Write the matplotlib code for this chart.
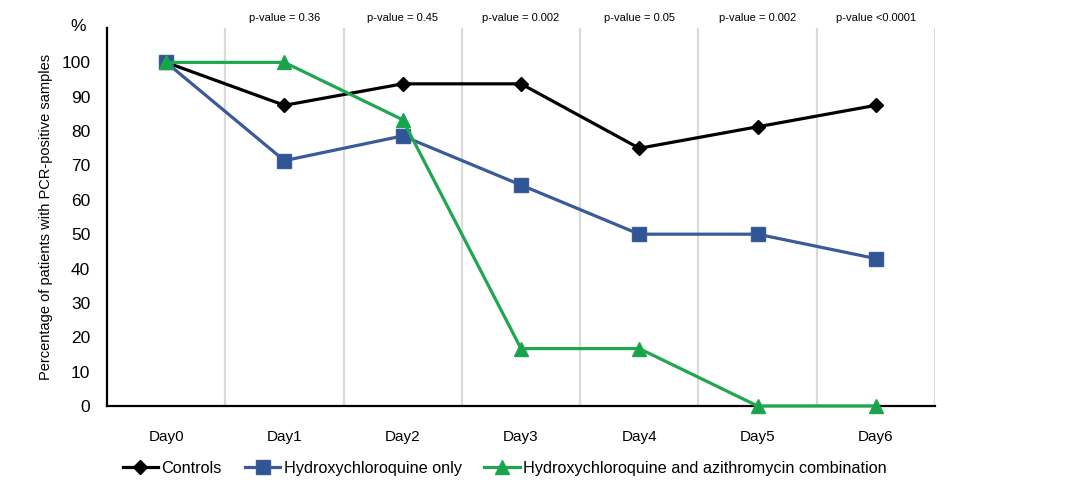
import matplotlib
matplotlib.use("Agg")
import matplotlib.pyplot as plt

plt.rcParams['font.family'] = ['Liberation Sans', 'DejaVu Sans']

days = ["Day0", "Day1", "Day2", "Day3", "Day4", "Day5", "Day6"]
controls = [100, 87.5, 93.75, 93.75, 75, 81.25, 87.5]
hcq_only = [100, 71.4, 78.6, 64.3, 50, 50, 42.9]
hcq_azi = [100, 100, 83.3, 16.7, 16.7, 0, 0]
p_values = ["p-value = 0.36", "p-value = 0.45", "p-value = 0.002",
            "p-value = 0.05", "p-value = 0.002", "p-value <0.0001"]

fig = plt.figure(figsize=(10.74, 4.93), dpi=100)
ax = fig.add_axes([0.0996, 0.1765, 0.7710, 0.7667])

x = list(range(len(days)))

# grey separators between the days
for b in range(len(days)):
    ax.axvline(b + 0.5, color="#DADADA", lw=1.6, zorder=0)

ax.plot(x, controls, color="black", lw=2.3, marker="D", ms=7,
        label="Controls", clip_on=False, zorder=3)
ax.plot(x, hcq_only, color="#3A5A98", lw=2.3, marker="s", ms=10,
        markerfacecolor="#2F5597", label="Hydroxychloroquine only",
        clip_on=False, zorder=4)
ax.plot(x, hcq_azi, color="#1FA750", lw=2.3, marker="^", ms=10,
        markerfacecolor="#17A34A", label="Hydroxychloroquine and azithromycin combination",
        clip_on=False, zorder=5)

ax.set_xlim(-0.5, 6.5)
ax.set_ylim(0, 110)
ax.set_xticks(x)
ax.set_xticklabels(days, fontsize=11)
ax.set_yticks(range(0, 101, 10))
ax.tick_params(axis="y", length=0, pad=12, labelsize=12.5)
ax.tick_params(axis="x", length=0, pad=17)

for s in ["top", "right"]:
    ax.spines[s].set_visible(False)
ax.spines["left"].set_linewidth(1.6)
ax.spines["bottom"].set_linewidth(1.6)

ax.set_ylabel("Percentage of patients with PCR-positive samples", fontsize=10.5, labelpad=6)
ax.text(-0.74, 110.5, "%", fontsize=12.5, ha="center", va="center", clip_on=False)

for i, p in enumerate(p_values):
    ax.text(i + 1, 112.8, p, fontsize=8, ha="center", va="center", clip_on=False)

fig.legend(loc="center", bbox_to_anchor=(0.47, 0.05), ncol=3, frameon=False,
           fontsize=11.7, handlelength=2.2, columnspacing=1.4, handletextpad=0.2)

fig.savefig("out.png", dpi=100)
